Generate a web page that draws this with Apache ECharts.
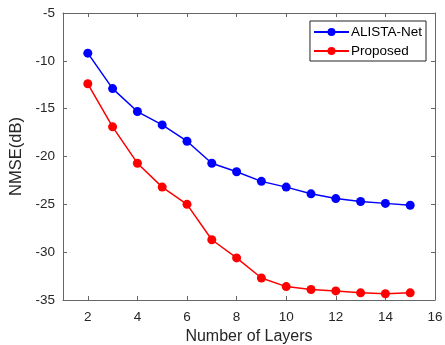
<!DOCTYPE html>
<html>
<head>
<meta charset="utf-8">
<title>NMSE vs layers</title>
<script src="https://cdn.jsdelivr.net/npm/echarts@6/dist/echarts.min.js"></script>
<style>
  html, body { margin: 0; padding: 0; background: #fff; }
  #main { width: 445px; height: 345px; }
</style>
</head>
<body>
<div id="main"></div>
<script>
// values
var layers = [2, 3, 4, 5, 6, 7, 8, 9, 10, 11, 12, 13, 14, 15];
var alistaNet = [-9.2, -12.9, -15.3, -16.7, -18.4, -20.7, -21.6, -22.6, -23.2, -23.9, -24.4, -24.7, -24.9, -25.1];
var proposed = [-12.4, -16.9, -20.7, -23.2, -25.0, -28.7, -30.6, -32.7, -33.6, -33.9, -34.05, -34.25, -34.35, -34.25];
var xTicks = [2, 4, 6, 8, 10, 12, 14, 16];

var font = 'Liberation Sans, Arial, sans-serif';
var axisColor = '#666';

function pairs(xs, ys) {
    var out = [];
    for (var i = 0; i < xs.length; i++) out.push([xs[i], ys[i]]);
    return out;
}

var chart = echarts.init(document.getElementById('main'));
var option = {
    animation: false,
    grid: { left: 63, right: 10, top: 13, bottom: 45, outerBoundsMode: 'none' },
    legend: {
        right: 19, top: 21,
        orient: 'vertical',
        itemGap: 5,
        itemWidth: 35, itemHeight: 10,
        padding: [4, 4, 3, 3],
        borderColor: '#222', borderWidth: 1,
        backgroundColor: '#fff',
        textStyle: { fontFamily: font, fontSize: 13.5, color: '#000', padding: [0, 0, 0, -3] },
        data: ['ALISTA-Net', 'Proposed']
    },
    xAxis: [{
        type: 'value', min: 1, max: 16, interval: 1,
        name: 'Number of Layers', nameLocation: 'middle', nameGap: 28,
        nameTextStyle: { fontFamily: font, fontSize: 16, color: '#262626' },
        axisLine: { lineStyle: { color: axisColor } },
        axisTick: { inside: true, length: 4, lineStyle: { color: axisColor }, customValues: xTicks },
        axisLabel: { fontFamily: font, fontSize: 13.5, color: '#262626', margin: 10, customValues: xTicks },
        splitLine: { show: false }
    }, {
        type: 'value', min: 1, max: 16, position: 'top',
        axisLine: { show: true, lineStyle: { color: axisColor } },
        axisTick: { show: true, inside: true, length: 4, lineStyle: { color: axisColor }, customValues: xTicks },
        axisLabel: { show: false },
        splitLine: { show: false }
    }],
    yAxis: [{
        type: 'value', min: -35, max: -5, interval: 5,
        name: 'NMSE(dB)', nameLocation: 'middle', nameGap: 32,
        nameTextStyle: { fontFamily: font, fontSize: 16.5, color: '#262626' },
        axisLine: { show: true, lineStyle: { color: axisColor } },
        axisTick: { show: true, inside: true, length: 4, lineStyle: { color: axisColor } },
        axisLabel: { fontFamily: font, fontSize: 13.5, color: '#262626', margin: 8 },
        splitLine: { show: false }
    }, {
        type: 'value', min: -35, max: -5, interval: 5, position: 'right',
        axisLine: { show: true, lineStyle: { color: axisColor } },
        axisTick: { show: true, inside: true, length: 4, lineStyle: { color: axisColor } },
        axisLabel: { show: false },
        splitLine: { show: false }
    }],
    series: [{
        name: 'ALISTA-Net', type: 'line',
        data: pairs(layers, alistaNet),
        symbol: 'circle', symbolSize: 9,
        lineStyle: { color: '#0000ff', width: 1.5 },
        itemStyle: { color: '#0000ff' }
    }, {
        name: 'Proposed', type: 'line',
        data: pairs(layers, proposed),
        symbol: 'circle', symbolSize: 9,
        lineStyle: { color: '#ff0000', width: 1.5 },
        itemStyle: { color: '#ff0000' }
    }]
};
chart.setOption(option);
</script>
</body>
</html>
